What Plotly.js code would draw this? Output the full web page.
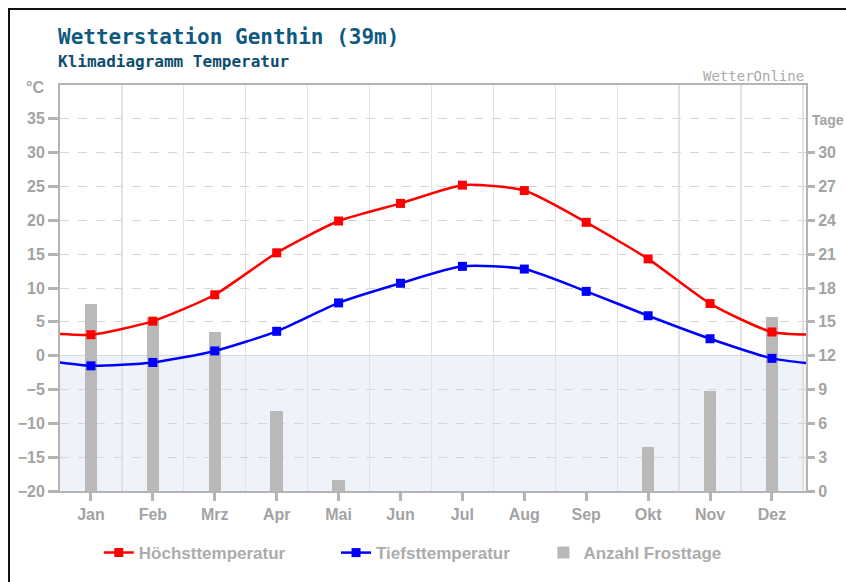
<!DOCTYPE html>
<html>
<head>
<meta charset="utf-8">
<script src="https://cdn.plot.ly/plotly-3.0.1.min.js"></script>
<style>
  html, body { margin: 0; padding: 0; background: #ffffff; }
  #frame { position: absolute; left: 8px; top: 8px; width: 900px; height: 640px;
           border-left: 2px solid #111; border-top: 2px solid #111; z-index: 0; }
  #chart { position: absolute; left: 0; top: 0; width: 846px; height: 582px; z-index: 1; }
</style>
</head>
<body>
<div id="frame"></div>
<div id="chart"></div>
<script>
// ---- data ----
const months = ['Jan','Feb','Mrz','Apr','Mai','Jun','Jul','Aug','Sep','Okt','Nov','Dez'];
const maxTemp = [3.1, 5.1, 9.0, 15.2, 19.9, 22.5, 25.2, 24.4, 19.7, 14.3, 7.7, 3.5];
const minTemp = [-1.5, -1.0, 0.7, 3.6, 7.8, 10.7, 13.2, 12.8, 9.5, 5.9, 2.5, -0.4];
const frostDays = [16.6, 15.3, 14.1, 7.1, 1.0, 0, 0, 0, 0, 3.9, 8.9, 15.4];
const tempTicks = [-20,-15,-10,-5,0,5,10,15,20,25,30,35];
const dayTicks = [0,3,6,9,12,15,18,21,24,27,30];

// month positions; lines continue cyclically past both edges
const monthIdx = months.map((m, i) => i);
const xsExt = [-1].concat(monthIdx, [12]);
const wrap = arr => [arr[arr.length - 1]].concat(arr, [arr[0]]);

const tickFont = { family: 'Liberation Sans, Arial, sans-serif', size: 16, color: '#a3a3a3', weight: 'bold' };
const axisGray = '#b4b4b4';

const traces = [
  {
    type: 'bar', x: monthIdx, y: frostDays, yaxis: 'y',
    name: 'Anzahl Frosttage', legend: 'legend3',
    marker: { color: '#b9b9b9', line: { width: 0 } }, width: 0.2
  },
  {
    type: 'scatter', mode: 'lines+markers', x: xsExt, y: wrap(maxTemp), yaxis: 'y2',
    name: 'Höchsttemperatur', legend: 'legend',
    line: { color: '#ff0000', width: 2.5, shape: 'spline', smoothing: 0.6 },
    marker: { symbol: 'square', size: 9, color: '#ff0000' }
  },
  {
    type: 'scatter', mode: 'lines+markers', x: xsExt, y: wrap(minTemp), yaxis: 'y2',
    name: 'Tiefsttemperatur', legend: 'legend2',
    line: { color: '#0000ff', width: 2.5, shape: 'spline', smoothing: 0.6 },
    marker: { symbol: 'square', size: 9, color: '#0000ff' }
  }
];

const legendFont = { family: 'Liberation Sans, Arial, sans-serif', size: 17, color: '#acacac', weight: 'bold' };
const legendBase = { orientation: 'h', yanchor: 'middle', xanchor: 'left', y: -0.15,
                     bgcolor: 'rgba(0,0,0,0)', font: legendFont, borderwidth: 0 };

const layout = {
  width: 846, height: 582,
  margin: { l: 60, r: 40, t: 85, b: 90 },
  paper_bgcolor: 'rgba(0,0,0,0)',
  plot_bgcolor: '#ffffff',
  showlegend: true,
  hovermode: false,
  bargap: 0,
  xaxis: {
    range: [-0.5, 11.55], tickmode: 'array', tickvals: monthIdx, ticktext: months,
    showgrid: false, zeroline: false,
    minor: { tickmode: 'linear', tick0: 0.5, dtick: 1, showgrid: true, gridcolor: '#e2e2e2', gridwidth: 1.2, ticks: '' },
    ticks: 'outside', ticklen: 8, tickwidth: 3, tickcolor: axisGray,
    showline: true, linecolor: axisGray, linewidth: 2, mirror: true,
    tickfont: tickFont, fixedrange: true
  },
  yaxis: {
    range: [0, 36], side: 'right', tickmode: 'array', tickvals: dayTicks,
    showgrid: false, zeroline: false,
    ticks: 'outside', ticklen: 7, tickwidth: 3, tickcolor: axisGray,
    showline: true, linecolor: axisGray, linewidth: 2,
    tickfont: tickFont, fixedrange: true
  },
  yaxis2: {
    range: [-20, 40], side: 'left', overlaying: 'y', tickmode: 'array', tickvals: tempTicks,
    showgrid: true, gridcolor: '#d6d6d6', griddash: 'dash', gridwidth: 1,
    zeroline: true, zerolinecolor: '#d6d6d6', zerolinewidth: 1.5,
    ticks: 'outside', ticklen: 10, tickwidth: 3, tickcolor: axisGray,
    showline: true, linecolor: axisGray, linewidth: 2,
    tickfont: tickFont, fixedrange: true
  },
  shapes: [
    { type: 'rect', xref: 'paper', x0: 0, x1: 1, yref: 'y2', y0: -20, y1: 0,
      fillcolor: '#eef2f9', line: { width: 0 }, layer: 'below' }
  ],
  legend: Object.assign({}, legendBase, { x: 0.052 }),
  legend2: Object.assign({}, legendBase, { x: 0.370 }),
  legend3: Object.assign({}, legendBase, { x: 0.648 }),
  annotations: [
    { text: 'Wetterstation Genthin (39m)', xref: 'paper', yref: 'paper', x: -0.006, y: 1.118,
      xanchor: 'left', yanchor: 'middle', showarrow: false,
      font: { family: 'DejaVu Sans Mono, monospace', size: 21, color: '#0f5a80', weight: 'bold' } },
    { text: 'Klimadiagramm Temperatur', xref: 'paper', yref: 'paper', x: -0.006, y: 1.059,
      xanchor: 'left', yanchor: 'middle', showarrow: false,
      font: { family: 'DejaVu Sans Mono, monospace', size: 16, color: '#0f4d6e', weight: 'bold' } },
    { text: 'WetterOnline', xref: 'paper', yref: 'paper', x: 1.0, y: 1.022,
      xanchor: 'right', yanchor: 'middle', showarrow: false,
      font: { family: 'DejaVu Sans Mono, monospace', size: 14, color: '#aaaaaa' } },
    { text: '°C', xref: 'paper', yref: 'paper', x: -0.019, y: 0.993,
      xanchor: 'right', yanchor: 'middle', showarrow: false, font: tickFont },
    { text: 'Tage', xref: 'paper', yref: 'paper', x: 1.005, y: 0.914,
      xanchor: 'left', yanchor: 'middle', showarrow: false,
      font: { family: 'Liberation Sans, Arial, sans-serif', size: 14, color: '#a3a3a3', weight: 'bold' } }
  ]
};

Plotly.newPlot('chart', traces, layout, { displayModeBar: false, staticPlot: true });
</script>
</body>
</html>
